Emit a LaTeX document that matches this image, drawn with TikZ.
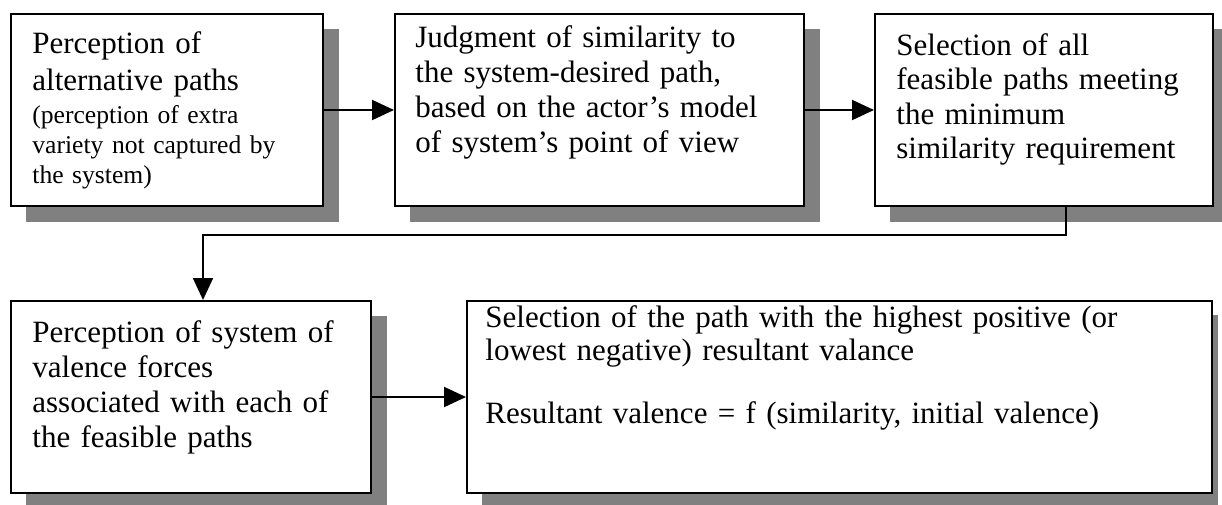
\documentclass[tikz,border=0pt]{standalone}
\usepackage{fontspec}
\setmainfont{Liberation Serif}
\usetikzlibrary{arrows.meta,calc}
\begin{document}
\begin{tikzpicture}[x=0.5pt,y=-0.5pt,
  box/.style={draw=black,line width=1pt,fill=white,rectangle,inner sep=0pt,anchor=north west,minimum height=96pt},
  shadowfill/.style={fill={rgb,255:red,128;green,128;blue,128}},
  txt/.style={anchor=base west,inner sep=0pt,text width=420pt,align=left},
  big/.style={font=\fontsize{15.5}{17.5}\selectfont},
  small/.style={font=\fontsize{12.8}{15}\selectfont},
  conn/.style={line width=1pt,-{Triangle[length=11pt,width=10pt]}}]
\useasboundingbox (0,0) rectangle (1222,504);
\clip (0,0) rectangle (1222,504);
% boxes (positions in pixels)
\coordinate (p1) at (10,13);
\coordinate (p2) at (394,13);
\coordinate (p3) at (874,13);
\coordinate (p4) at (10,300);
\coordinate (p5) at (466,300);
% shadows
\fill[shadowfill] ($(p1)+(16,16)$) rectangle ($(p1)+(312+17,192+17)$);
\fill[shadowfill] ($(p2)+(16,16)$) rectangle ($(p2)+(409+17,192+17)$);
\fill[shadowfill] ($(p3)+(16,16)$) rectangle ($(p3)+(338+17,192+17)$);
\fill[shadowfill] ($(p4)+(16,16)$) rectangle ($(p4)+(360+17,192+17)$);
\fill[shadowfill] ($(p5)+(16,15)$) rectangle ($(p5)+(745+7,192+17)$);
\node[box,minimum width=156pt] (b1) at (p1) {};
\node[box,minimum width=204.5pt] (b2) at (p2) {};
\node[box,minimum width=169pt] (b3) at (p3) {};
\node[box,minimum width=180pt] (b4) at (p4) {};
\node[box,minimum width=372.5pt] (b5) at (p5) {};
% texts
\node[txt,font=\fontsize{15.5}{18.5}\selectfont] (t1a) at (32,53) {Perception of\\alternative paths};
\node[txt,small] (t1b) at (32,123) {(perception of extra\\variety not captured by\\the system)};
\node[txt,big] (t2) at (415,47) {Judgment of similarity to\\the system-desired path,\\based on the actor’s model\\of system’s point of view};
\node[txt,font=\fontsize{15.5}{17.25}\selectfont] (t3) at (896,55) {Selection of all\\feasible paths meeting\\the minimum\\similarity requirement};
\node[txt,big] (t4) at (32,342) {Perception of system of\\valence forces\\associated with each of\\the feasible paths};
\node[txt,font=\fontsize{15.5}{16.5}\selectfont] (t5a) at (485,327) {Selection of the path with the highest positive (or\\lowest negative) resultant valance};
\node[txt,big] (t5b) at (485,423) {Resultant valence = f (similarity, initial valence)};
% connectors
\coordinate (c1) at (1066,235);
\coordinate (c2) at (203,235);
\draw[conn] (b1.east) -- (b2.west);
\draw[conn] (b2.east) -- (b3.west);
\draw[conn] (b3.south -| c1) -- (c1) -- (c2) -- (c2 |- b4.north);
\draw[conn] (b4.east) -- (b5.west);
\end{tikzpicture}
\end{document}
